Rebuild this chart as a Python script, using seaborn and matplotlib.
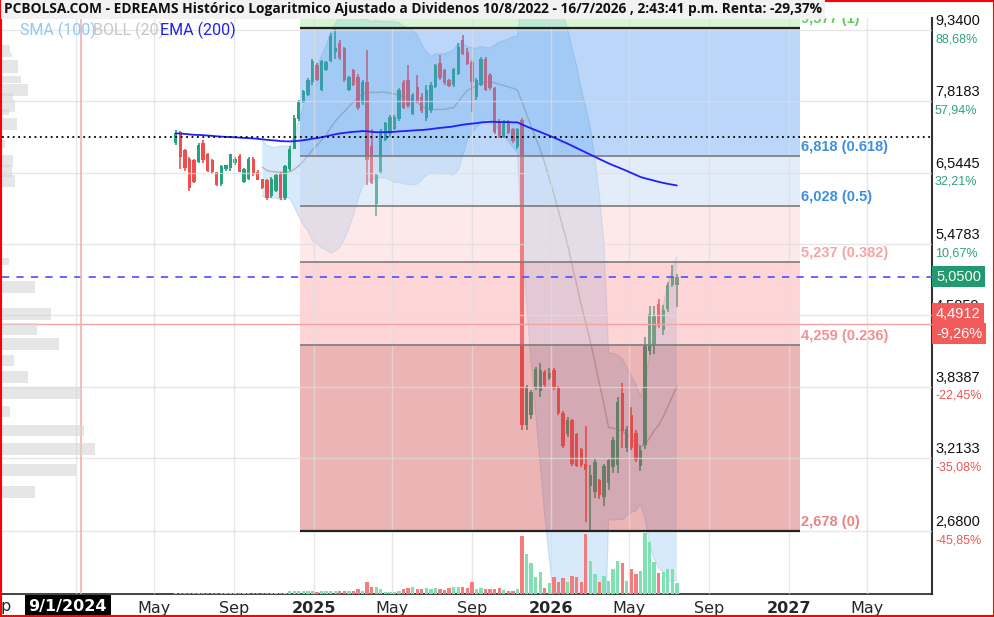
import matplotlib
matplotlib.use('Agg')
import matplotlib.pyplot as plt
import matplotlib.dates as mdates
from matplotlib.patches import Rectangle
from matplotlib.transforms import blended_transform_factory
import seaborn as sns
import pandas as pd
import numpy as np

sns.set_style('white')
plt.rcParams['font.family'] = ['Liberation Sans', 'DejaVu Sans']

# --- weekly candles (EDREAMS) ---
week_start = '2024-06-03'
opens = [7.05, 7.24, 6.93, 6.78, 6.75, 6.72, 7.05, 6.85, 6.75, 6.55,
         6.36, 6.60, 6.62, 6.70, 6.82, 6.40, 6.45, 6.78, 6.56, 6.44,
         6.42, 6.17, 6.25, 6.53, 6.15, 6.60, 6.95, 7.48, 7.80, 7.95,
         8.20, 8.55, 8.05, 8.45, 8.65, 8.85, 9.05, 8.92, 8.05, 8.45,
         8.30, 7.78, 8.20, 7.00, 6.05, 6.55, 7.10, 7.20, 7.30, 7.48,
         8.20, 8.25, 7.58, 8.10, 7.90, 7.50, 7.65, 8.10, 8.60, 8.45,
         8.25, 8.15, 8.38, 9.10, 8.85, 8.62, 7.90, 8.15, 8.70, 8.35,
         8.08, 7.45, 7.15, 7.45, 7.30, 6.98, 7.46, 3.49, 3.58, 3.84,
         3.80, 3.98, 3.92, 4.00, 3.84, 3.60, 3.41, 3.53, 3.41, 3.29,
         3.17, 3.00, 2.95, 3.04, 2.92, 3.02, 3.14, 3.16, 3.78, 3.30,
         3.58, 3.42, 3.15, 3.32, 4.20, 4.25, 4.72, 4.42, 4.66, 4.95,
         4.95]
highs = [7.28, 7.27, 6.95, 6.80, 6.78, 7.05, 7.10, 6.88, 6.77, 6.56,
         6.68, 6.68, 6.86, 6.80, 6.86, 6.63, 6.80, 6.80, 6.59, 6.45,
         6.44, 6.48, 6.52, 6.55, 6.68, 6.99, 7.56, 7.85, 8.05, 8.28,
         8.68, 8.60, 8.67, 8.64, 9.26, 9.37, 9.11, 8.95, 8.33, 8.48,
         8.38, 8.25, 8.89, 7.29, 6.52, 7.30, 7.43, 7.56, 7.56, 8.08,
         8.25, 8.56, 7.98, 8.35, 7.98, 8.15, 8.20, 8.58, 8.78, 8.48,
         8.27, 8.50, 9.05, 9.22, 8.92, 8.67, 8.29, 8.73, 8.73, 8.40,
         8.10, 7.49, 7.46, 7.47, 7.31, 7.32, 7.50, 3.86, 3.81, 4.03,
         4.07, 4.00, 4.02, 4.02, 3.85, 3.61, 3.56, 3.54, 3.42, 3.30,
         3.48, 3.16, 3.21, 3.05, 3.17, 3.21, 3.39, 3.74, 3.88, 3.48,
         3.65, 3.45, 3.31, 4.35, 4.70, 4.70, 4.78, 4.71, 4.99, 5.20,
         5.08]
lows = [7.02, 6.60, 6.58, 6.25, 6.38, 6.70, 6.70, 6.56, 6.52, 6.33,
        6.33, 6.58, 6.58, 6.68, 6.55, 6.38, 6.42, 6.49, 6.42, 6.28,
        6.12, 6.15, 6.24, 6.12, 6.12, 6.58, 6.95, 7.45, 7.78, 7.92,
        8.15, 8.22, 8.02, 8.43, 8.62, 8.70, 8.67, 8.20, 8.02, 8.12,
        7.66, 7.75, 6.35, 6.36, 5.88, 6.53, 7.08, 7.15, 7.28, 7.45,
        7.68, 7.70, 7.55, 7.78, 7.60, 7.45, 7.60, 8.08, 8.25, 8.15,
        8.11, 8.10, 8.35, 8.77, 8.55, 7.62, 7.85, 8.12, 8.02, 8.05,
        7.20, 7.13, 7.13, 7.20, 7.05, 6.95, 3.45, 3.45, 3.54, 3.81,
        3.74, 3.84, 3.90, 3.81, 3.58, 3.30, 3.39, 3.15, 3.14, 3.14,
        2.74, 2.678, 2.91, 2.90, 2.85, 2.97, 3.10, 3.10, 3.30, 3.26,
        3.28, 3.18, 3.11, 3.29, 4.16, 4.17, 4.45, 4.37, 4.63, 4.92,
        4.68]
closes = [7.22, 6.80, 6.62, 6.30, 6.40, 7.02, 6.75, 6.58, 6.55, 6.35,
          6.65, 6.67, 6.85, 6.78, 6.56, 6.60, 6.78, 6.52, 6.43, 6.30,
          6.15, 6.45, 6.50, 6.15, 6.65, 6.95, 7.50, 7.80, 8.03, 8.25,
          8.65, 8.25, 8.65, 8.62, 9.20, 8.93, 8.72, 8.25, 8.30, 8.15,
          7.70, 8.20, 6.75, 6.38, 6.50, 7.25, 7.40, 7.52, 7.52, 8.05,
          7.70, 7.72, 7.95, 7.80, 7.63, 8.05, 8.15, 8.55, 8.28, 8.18,
          8.13, 8.48, 8.95, 8.80, 8.58, 8.20, 8.25, 8.70, 8.05, 8.08,
          7.25, 7.15, 7.43, 7.22, 7.08, 7.30, 3.49, 3.84, 3.79, 4.01,
          4.00, 3.86, 3.97, 3.83, 3.60, 3.31, 3.53, 3.17, 3.15, 3.16,
          3.12, 3.08, 3.18, 2.93, 3.15, 3.20, 3.36, 3.70, 3.44, 3.46,
          3.30, 3.20, 3.28, 4.25, 4.60, 4.58, 4.47, 4.65, 4.95, 5.05,
          5.05]
volumes = [1.0, 1.0, 1.0, 1.0, 1.0, 1.0, 1.0, 1.0, 1.0, 1.0,
           1.0, 1.0, 1.0, 1.0, 1.0, 1.0, 1.0, 1.0, 1.0, 1.0,
           1.0, 1.0, 1.0, 1.0, 1.3, 3.3, 3.3, 3.3, 3.3, 2.7,
           3.3, 2.0, 3.3, 3.3, 3.3, 3.3, 3.3, 3.3, 3.3, 3.3,
           4.7, 3.3, 12, 7, 7, 4.7, 2, 2, 2, 2.7,
           4.7, 5.7, 7, 4.7, 4.7, 5.7, 4.7, 5.7, 4.7, 4,
           5.7, 7, 7, 7, 5.7, 12, 4.7, 5.7, 4.7, 4.7,
           4.7, 5.7, 4, 3.3, 3.3, 4.7, 58, 40, 31, 17,
           22, 6, 11, 17, 12, 16, 12, 18, 17, 12,
           60, 33, 20, 12, 18, 13, 25, 33, 31, 13,
           25, 20, 23, 61, 52, 32, 21, 22, 25, 25,
           11]

ema_seed = 7.22  # EMA(200) value at the first visible week

# --- Fibonacci retracement ---
fib_levels = [2.678, 4.259, 5.237, 6.028, 6.818, 9.377]
fib_ratios = ['0', '0.236', '0.382', '0.5', '0.618', '1']
fib_zone_colors = ['#cd4848', '#fa969a', '#fac8c8', '#b9d2f0', '#5599ee', '#96e696']
fib_text_colors = ['#e98484', '#f09090', '#f6a4a4', '#3d8fe0', '#3d8fe0', '#5fcf5f']
fib_start, fib_end = '2024-12-11', '2027-01-18'

# --- left volume profile (price bins) ---
profile_lo = [8.82, 8.73, 8.39, 8.19, 7.92, 7.85, 7.61, 7.56, 7.28, 6.96,
              6.64, 6.48, 6.32, 5.20, 4.85, 4.535, 4.37, 4.21, 4.045, 3.88,
              3.725, 3.56, 3.40, 3.24, 3.07, 2.91]
profile_hi = [9.00, 8.81, 8.67, 8.33, 8.16, 7.98, 7.85, 7.67, 7.50, 7.10,
              6.84, 6.67, 6.51, 5.29, 5.00, 4.67, 4.50, 4.34, 4.157, 3.995,
              3.84, 3.66, 3.49, 3.34, 3.17, 3.00]
profile_vol = [8, 10, 16, 19, 26, 11, 13, 7, 15, 3,
               11, 10, 13, 7, 33, 49, 35, 57, 12, 26,
               79, 8, 82, 93, 74, 33]

# --- axis ticks ---
ytick_vals = [9.34, 7.8183, 6.5445, 5.4783, 4.5859, 3.8387, 3.2133, 2.68]
ytick_labels = ['9,3400', '7,8183', '6,5445', '5,4783', '4,5859', '3,8387', '3,2133', '2,6800']
ytick_pct = ['88,68%', '57,94%', '32,21%', '10,67%', '-7,36%', '-22,45%', '-35,08%', '-45,85%']
xtick_dates = ['2024-01-01', '2024-05-01', '2024-09-01', '2025-01-01', '2025-05-01', '2025-09-01',
               '2026-01-01', '2026-05-01', '2026-09-01', '2027-01-01', '2027-05-01']
# the 2024 label sits under the crosshair date box
xtick_labels = ['', 'May', 'Sep', '2025', 'May', 'Sep', '2026', 'May', 'Sep', '2027', 'May']

last_price = 5.05
cross_price, cross_pct = 4.4912, '-9,26%'
cross_date, cross_label = '2024-01-09', '9/1/2024'
ref_price = 7.16

title = ('PCBOLSA.COM - EDREAMS Histórico Logaritmico Ajustado a Dividenos '
         '10/8/2022 - 16/7/2026 , 2:43:41 p.m. Renta: -29,37%')

GREEN, RED = '#26a37c', '#f04e4e'
VGREEN, VRED = '#7fe0b2', '#f57c7c'
NARROW = ['Liberation Sans Narrow', 'DejaVu Sans']

# --- derived series ---
dates = pd.date_range(week_start, periods=len(closes), freq='W-MON')
dnum = mdates.date2num(dates)
o, h, l, c = map(np.array, (opens, highs, lows, closes))
up = c >= o
ema = pd.Series([ema_seed] + closes[1:]).ewm(span=200, adjust=False).mean().values
mid = pd.Series(closes).rolling(20).mean().values
sd = pd.Series(closes).rolling(20).std(ddof=0).values
boll_up, boll_lo = mid + 2 * sd, mid - 2 * sd

fig = plt.figure(figsize=(9.95, 6.17), dpi=100)
ax = fig.add_axes([2 / 995, 23 / 617, 930 / 995, 576 / 617])
ax.set_yscale('log')
ax.set_ylim(2.2907, 9.624)
ax.set_xlim(mdates.date2num(pd.Timestamp('2023-09-10')), mdates.date2num(pd.Timestamp('2027-08-09')))
ax.xaxis_date()

# bollinger band (under everything)
ax.fill_between(dnum, boll_lo, boll_up, color='#c6e2fa', alpha=0.7, lw=0, zorder=1)
ax.plot(dnum, boll_up, color='#a9cdea', lw=0.8, alpha=0.6, zorder=1.1)
ax.plot(dnum, boll_lo, color='#a9cdea', lw=0.8, alpha=0.6, zorder=1.1)
sns.lineplot(x=dnum, y=mid, ax=ax, color='#b4b4b4', lw=1, zorder=1.2)

# candles
cols = np.where(up, GREEN, RED)
ax.vlines(dnum, l, h, colors=cols, lw=1.2, zorder=2)
ax.bar(dnum, np.maximum(c, o) - np.minimum(c, o), bottom=np.minimum(c, o),
       width=5.2, color=cols, lw=0, zorder=2)

# fibonacci zones over the candles
fx = mdates.date2num(pd.to_datetime([fib_start, fib_end]))
bounds = fib_levels + [20.0]
for i, col in enumerate(fib_zone_colors):
    ax.fill_between(fx, bounds[i], bounds[i + 1], color=col, alpha=0.4, lw=0, zorder=3)
for lev, rat, tcol in zip(fib_levels, fib_ratios, fib_text_colors):
    edge = rat in ('0', '1')
    ax.hlines(lev, fx[0], fx[1], color='#222222' if edge else '#7c7c7c',
              lw=1.6 if edge else 1.2, zorder=3.5)
    txt = f'{lev:.3f}'.replace('.', ',') + f' ({rat})'
    ax.annotate(txt, xy=(fx[1], lev), xytext=(1, 2), textcoords='offset pixels',
                ha='left', va='bottom', fontsize=10.5, fontweight='bold',
                color=tcol, zorder=4, annotation_clip=False, clip_on=True)

# grid on top of zones
xt = mdates.date2num(pd.to_datetime(xtick_dates))
for v in ytick_vals:
    ax.axhline(v, color='#dedede', lw=1, alpha=0.7, zorder=3.2)
for d in xt:
    ax.axvline(d, color='#dedede', lw=1, alpha=0.7, zorder=3.2)

# EMA(200)
sns.lineplot(x=dnum, y=ema, ax=ax, color='#1f1fff', lw=1.3, zorder=5)

# reference lines
xc = mdates.date2num(pd.Timestamp(cross_date))
ax.axhline(ref_price, color='black', ls=(0, (1, 2)), lw=1.3, zorder=6)
ax.axhline(last_price, color='#5a5aff', ls=(0, (4, 4)), lw=1.3, zorder=6)
ax.axhline(cross_price, color='#f4a4a4', lw=1, zorder=6)
ax.axvline(xc, color='#f6b0b0', lw=1.2, zorder=6)

# axes styling
ax.set_yticks(ytick_vals)
ax.set_yticklabels([])
ax.yaxis.set_minor_locator(matplotlib.ticker.NullLocator())
ax.tick_params(axis='y', length=0)
ax.set_xticks(xt)
ax.set_xticklabels(xtick_labels)
ax.tick_params(axis='x', length=0, pad=5)
for t, lab in zip(ax.get_xticklabels(), xtick_labels):
    t.set_family(NARROW)
    t.set_fontsize(11.5)
    if lab.isdigit():
        t.set_fontweight('bold')
ax.set_xlabel('')
ax.set_ylabel('')
for s in ('left', 'top'):
    ax.spines[s].set_visible(False)
ax.spines['right'].set_color('#333333')
ax.spines['right'].set_linewidth(1.5)
ax.spines['bottom'].set_color('#222222')
ax.spines['bottom'].set_linewidth(1.2)

bx = blended_transform_factory(ax.transData, ax.transAxes)
# "Sep" 2023 label cut by the figure edge
ax.annotate('Sep', xy=(mdates.date2num(pd.Timestamp('2023-09-01')), 0), xycoords=bx,
            xytext=(0, -12), textcoords='offset pixels', ha='center', va='center',
            fontsize=11.5, family=NARROW, annotation_clip=False)
ax.annotate(cross_label, xy=(xc, 0), xycoords=bx,
            xytext=(-13, -12), textcoords='offset pixels', ha='center', va='center',
            fontsize=11.5, fontweight='bold', color='white', family=NARROW,
            bbox=dict(boxstyle='square,pad=0.25', fc='black', ec='none'),
            annotation_clip=False, zorder=10)

# right price scale
tr = blended_transform_factory(ax.transAxes, ax.transData)
for v, lab, pct in zip(ytick_vals, ytick_labels, ytick_pct):
    ax.annotate(lab, xy=(1, v), xycoords=tr, xytext=(3, 2), textcoords='offset pixels',
                ha='left', va='bottom', fontsize=10.5, color='#111111', annotation_clip=False)
    ax.annotate(pct, xy=(1, v), xycoords=tr, xytext=(3, -3), textcoords='offset pixels',
                ha='left', va='top', fontsize=9,
                color='#2ea27a' if not pct.startswith('-') else '#f05454', annotation_clip=False)
ax.annotate(f'{last_price:.4f}'.replace('.', ','), xy=(1, last_price), xycoords=tr,
            xytext=(4, 0), textcoords='offset pixels', ha='left', va='center', fontsize=10.5,
            color='white', bbox=dict(boxstyle='square,pad=0.25', fc='#22996e', ec='none'),
            annotation_clip=False, zorder=10)
ax.annotate(f'{cross_price:.4f}'.replace('.', ','), xy=(1, cross_price), xycoords=tr,
            xytext=(4, 3), textcoords='offset pixels', ha='left', va='bottom', fontsize=10.5,
            color='white', bbox=dict(boxstyle='square,pad=0.25', fc='#f35b5b', ec='none'),
            annotation_clip=False, zorder=10)
ax.annotate(cross_pct, xy=(1, cross_price), xycoords=tr,
            xytext=(4, -3), textcoords='offset pixels', ha='left', va='top', fontsize=10.5,
            color='white', bbox=dict(boxstyle='square,pad=0.25', fc='#f35b5b', ec='none'),
            annotation_clip=False, zorder=10)

# indicator legend
for x0, txt, col in [(18, 'SMA (100)', '#90c8f8'), (91, 'BOLL (20)', '#c6c6c6'),
                     (158, 'EMA (200)', '#2222ee')]:
    ax.text(x0 / 930, 1 - 12 / 576, txt, transform=ax.transAxes, ha='left', va='center',
            fontsize=11.5, color=col, family=['Roboto', 'DejaVu Sans'], zorder=8)

# volume bars
axv = ax.twinx()
axv.bar(dnum, volumes, width=5.2, color=np.where(up, VGREEN, VRED), lw=0)
axv.set_ylim(0, 576)
axv.axis('off')

# left volume profile
axp = ax.twiny()
axp.barh(profile_lo, profile_vol, height=np.array(profile_hi) - np.array(profile_lo),
         left=0, align='edge', color='#d6d6d6', alpha=0.6, lw=0)
axp.set_xlim(0, 930)
axp.axis('off')

fig.text(4 / 995, 1 - 9 / 617, title, ha='left', va='center', fontsize=9.95,
         fontweight='bold', family=['Open Sans', 'DejaVu Sans'], color='#111111',
         bbox=dict(boxstyle='square,pad=0.2', fc='#f2f2f2', ec='none'))
fig.add_artist(Rectangle((0.6 / 995, 0.6 / 617), 1 - 1.6 / 995, 1 - 1.6 / 617,
                         transform=fig.transFigure, fill=False, ec='#ff0000', lw=1.5))

fig.savefig('out.png', dpi=100)
